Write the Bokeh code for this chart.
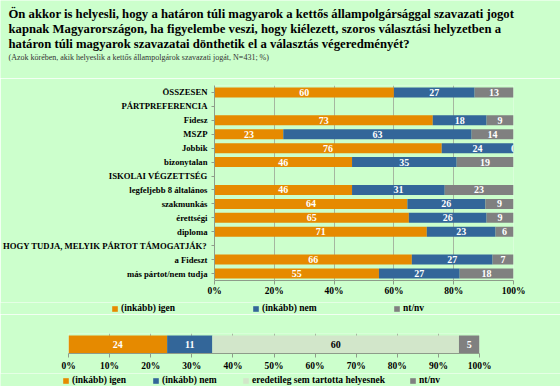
from bokeh.plotting import figure
from bokeh.models import (FactorRange, Range1d, Label, Legend, LegendItem,
                          ColumnDataSource, FixedTicker)
from bokeh.layouts import column, row
from bokeh.embed import file_html
from bokeh.resources import INLINE
from bokeh.core.properties import value

# ---------------- data ----------------
title_lines = [
    "Ön akkor is helyesli, hogy a határon túli magyarok a kettős állampolgársággal szavazati jogot",
    "kapnak Magyarországon, ha  figyelembe veszi, hogy kiélezett, szoros választási helyzetben a",
    "határon túli magyarok szavazatai dönthetik el a választás végeredményét?",
]
subtitle = "(Azok körében, akik helyeslik a kettős állampolgárok szavazati jogát, N=431; %)"

categories = ["ÖSSZESEN", "PÁRTPREFERENCIA", "Fidesz", "MSZP", "Jobbik", "bizonytalan",
              "ISKOLAI VÉGZETTSÉG", "legfeljebb 8 általános", "szakmunkás", "érettségi",
              "diploma", "HOGY TUDJA, MELYIK PÁRTOT TÁMOGATJÁK?", "a Fideszt",
              "más pártot/nem tudja"]
igen = [60, None, 73, 23, 76, 46, None, 46, 64.5, 65, 71, None, 66, 55]
nem = [27, None, 18, 63, 24, 35, None, 31, 26.1, 26, 23, None, 27, 27]
ntnv = [13, None, 9, 14, 0, 19, None, 23, 9.4, 9, 6, None, 7, 18]
series_names = ["(inkább) igen", "(inkább) nem", "nt/nv"]
x_ticks = [0, 20, 40, 60, 80, 100]

bottom_names = ["(inkább) igen", "(inkább) nem", "eredetileg sem tartotta helyesnek", "nt/nv"]
bottom_values = [24, 11, 60, 5]
bottom_ticks = [0, 10, 20, 30, 40, 50, 60, 70, 80, 90, 100]

# ---------------- style ----------------
BG = "#CCFFCC"
ORANGE = "#E68A00"
BLUE = "#336699"
GRAY = "#808080"
LIGHT = "#D2E6CA"
GRID = "#A6B6A0"
AXIS = "#8E9C8A"
SERIF = "Liberation Serif"
W = 560
NAN = float("nan")


def blank(height):
    f = figure(width=W, height=height, x_range=Range1d(0, 1), y_range=Range1d(0, 1),
               x_axis_type=None, y_axis_type=None,
               output_backend="svg", toolbar_location=None,
               min_border_left=0, min_border_right=0, min_border_top=0, min_border_bottom=0,
               background_fill_color=BG, border_fill_color=BG, outline_line_color=None)
    f.xgrid.visible = False
    f.ygrid.visible = False
    return f


def style_xaxis(f, ticks):
    f.xaxis.ticker = FixedTicker(ticks=ticks)
    f.xaxis.major_label_overrides = {tk: "%d%%" % tk for tk in ticks}
    f.xaxis.major_label_text_font = SERIF
    f.xaxis.major_label_text_font_style = "bold"
    f.xaxis.major_label_text_font_size = "9.5px"
    f.xaxis.major_label_text_color = "black"
    f.xaxis.axis_line_color = AXIS
    f.xaxis.major_tick_line_color = AXIS
    f.xaxis.major_tick_out = 4
    f.xaxis.major_tick_in = 0
    f.xaxis.minor_tick_line_color = None
    f.xgrid.ticker = FixedTicker(ticks=ticks)
    f.xgrid.grid_line_color = GRID
    f.ygrid.grid_line_color = None


def legend_kw(label_width):
    return dict(orientation="horizontal", glyph_width=7, glyph_height=7,
                label_height=12, label_width=label_width, label_standoff=3,
                spacing=0, padding=0, margin=0,
                label_text_font=SERIF, label_text_font_style="bold",
                label_text_font_size="9.5px", label_text_color="black",
                border_line_color=None, background_fill_alpha=0)


# ---------------- title block ----------------
T_H = 78
t = blank(T_H)
for k, line in enumerate(title_lines):
    t.add_layout(Label(x=8, y=T_H - 13 - 15 * k, x_units="screen", y_units="screen",
                       text=line, text_font=SERIF, text_font_style="bold",
                       text_font_size="12.7px", text_color="black",
                       text_baseline="middle", text_align="left"))
t.add_layout(Label(x=8, y=T_H - 57, x_units="screen", y_units="screen",
                   text=subtitle, text_font=SERIF, text_font_size="8px",
                   text_color="#333333", text_baseline="middle", text_align="left"))

# ---------------- main chart ----------------
p = figure(width=W, height=224,
           y_range=FactorRange(*reversed(categories)),
           x_range=Range1d(0, 100),
           output_backend="svg", toolbar_location=None,
           min_border_left=214, min_border_right=47,
           min_border_top=7, min_border_bottom=22,
           background_fill_color=BG, border_fill_color=BG,
           outline_line_color=None)

rows = [i for i, v in enumerate(igen) if v is not None]
src = ColumnDataSource(dict(
    cat=[categories[i] for i in rows],
    igen=[igen[i] for i in rows],
    nem=[nem[i] for i in rows],
    ntnv=[ntnv[i] for i in rows],
))
p.hbar_stack(["igen", "nem", "ntnv"], y="cat", height=0.72,
             color=[ORANGE, BLUE, GRAY], line_color=None, source=src)

lx, ly, lt = [], [], []
for i in rows:
    left = 0
    for v in (igen[i], nem[i], ntnv[i]):
        lx.append(left + v / 2)
        ly.append(categories[i])
        lt.append("%.0f" % v)
        left += v
p.text(x=lx, y=ly, text=lt, text_color="white", text_align="center",
       text_baseline="middle", text_font=value(SERIF), text_font_style="bold",
       text_font_size=value("10px"))

style_xaxis(p, x_ticks)
p.xaxis.major_label_standoff = 1

p.yaxis.major_label_text_font = SERIF
p.yaxis.major_label_text_font_style = "bold"
p.yaxis.major_label_text_font_size = "8.7px"
p.yaxis.major_label_text_color = "black"
p.yaxis.axis_line_color = AXIS
p.yaxis.major_tick_line_color = AXIS
p.yaxis.major_tick_out = 3
p.yaxis.major_tick_in = 0
p.yaxis.major_label_standoff = 4

# ---------------- legend of main chart ----------------
l1 = blank(12)
prox1 = [l1.hbar(y=[NAN], right=[NAN], height=1, color=c, line_color=None)
         for c in (ORANGE, BLUE, GRAY)]
l1.add_layout(Legend(items=[LegendItem(label=n, renderers=[r])
                            for n, r in zip(series_names, prox1)],
                     location=(111, 0), **legend_kw(131)), "center")

# ---------------- bottom chart ----------------
q = figure(width=W, height=59, x_range=Range1d(0, 100), y_range=Range1d(0, 1.11),
           output_backend="svg", toolbar_location=None,
           min_border_left=68, min_border_right=81, min_border_top=19, min_border_bottom=20,
           background_fill_color=BG, border_fill_color=BG, outline_line_color=None)

bsrc = ColumnDataSource(dict(y=[0.5], **{"s%d" % k: [v] for k, v in enumerate(bottom_values)}))
q.hbar_stack(["s%d" % k for k in range(len(bottom_values))], y="y", height=1.0,
             color=[ORANGE, BLUE, LIGHT, GRAY], line_color=None, source=bsrc)

bx, bt, bc = [], [], []
left = 0
for k, v in enumerate(bottom_values):
    bx.append(left + v / 2)
    bt.append("%d" % v)
    bc.append("black" if k == 2 else "white")
    left += v
q.text(x=bx, y=[0.5] * len(bx), text=bt, text_color=bc, text_align="center",
       text_baseline="middle", text_font=value(SERIF), text_font_style="bold",
       text_font_size=value("10px"))

style_xaxis(q, bottom_ticks)
q.xaxis.major_label_standoff = 3
q.yaxis.visible = False

# ---------------- legend of bottom chart ----------------
l2 = blank(13)
prox2 = [l2.hbar(y=[NAN], right=[NAN], height=1, color=c, line_color=None)
         for c in (ORANGE, BLUE, LIGHT, GRAY)]
items2 = [LegendItem(label=n, renderers=[r]) for n, r in zip(bottom_names, prox2)]
l2.add_layout(Legend(items=items2[:3], location=(62, 0), **legend_kw(80)), "center")
l2.add_layout(Legend(items=items2[3:], location=(409, 0), **legend_kw(30)), "center")

layout = column(row(t), row(p), row(l1), row(q), row(l2), spacing=0)
open("out.html", "w").write(file_html(layout, INLINE))
